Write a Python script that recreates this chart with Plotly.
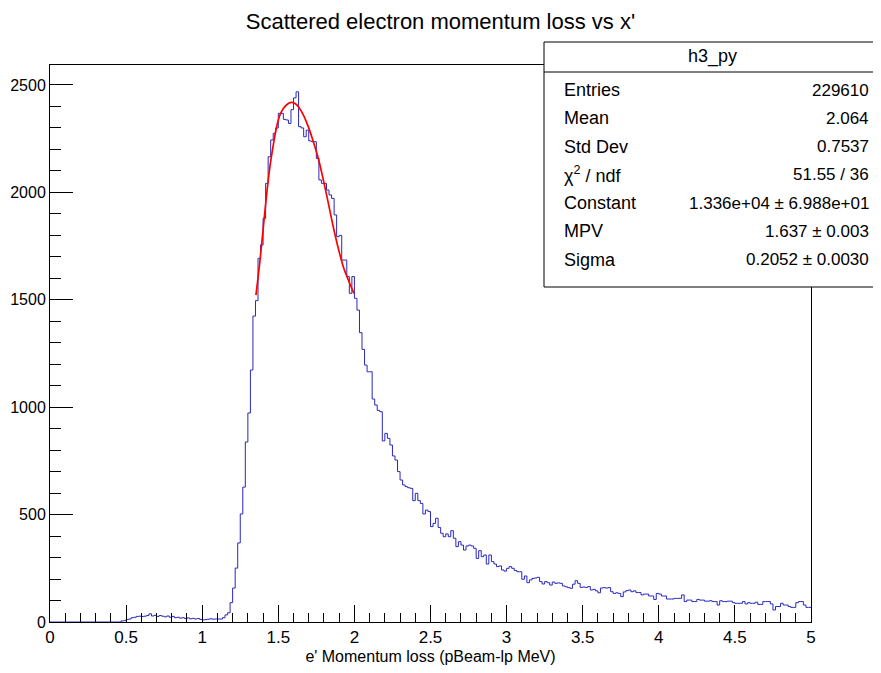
import numpy as np
import plotly.graph_objects as go

# histogram h3_py: 300 bins on [0, 5]
x_min, x_max, n_bins = 0.0, 5.0, 300
counts = (
    [0] * 28
    + [5, 6, 12, 14, 20, 22, 26, 27, 26, 27, 30, 38, 28, 31, 26, 30, 27, 24, 28, 22,
       26, 20, 22, 18, 20, 16, 19, 15, 17, 14, 16, 12, 10, 11, 13, 15, 13, 14, 14, 14,
       20, 33]
    + [43, 90, 158, 251, 368, 503, 628, 838, 973, 1173, 1424, 1496]
    + [1693, 1755, 1879, 2042, 2166, 2244, 2275, 2300, 2368, 2368, 2340, 2337, 2321,
       2385, 2440, 2468]
    + [2306, 2300, 2259, 2290, 2240, 2236, 2236, 2158, 2058, 2042, 2042, 2011, 1988,
       1972, 1895, 1794, 1800, 1685, 1685, 1608, 1530, 1608, 1507]
    + [1452, 1347, 1269, 1196, 1165, 1165, 1038, 1010, 985, 979, 843, 878, 855, 824,
       773, 754, 700, 661, 638, 630, 625, 622, 565, 599, 565, 552, 503, 521, 514, 444,
       459, 483, 440]
    + [413, 397, 410, 397, 425, 390, 351, 374, 358, 335, 354, 358, 354, 343, 296, 332,
       304, 312, 270, 312, 281, 270, 258, 261, 242, 237, 250, 258, 250, 240, 234, 234,
       199, 214, 183, 196, 203, 205, 208, 188, 177, 188, 183, 172, 186, 180, 182, 180,
       168, 164, 160, 157, 176, 192, 180, 161, 163, 161, 165, 149, 152, 145, 136, 158,
       160, 158, 160, 141, 133, 136, 133, 118, 140, 146]
    + [149, 141, 145, 137, 137, 126, 130, 130, 121, 121, 105, 133, 130, 121, 121, 107,
       107, 107, 110, 110, 110, 126, 95, 102, 102, 95, 95, 105, 102, 102, 97, 97, 99,
       95, 95, 79, 99, 95, 95, 97, 97, 90, 87, 87, 87, 95, 84, 90, 87, 87, 92, 82, 82,
       95, 95, 95, 84, 56, 72, 72, 87, 79, 79, 72, 68, 68, 90, 95, 95, 79, 68, 68]
)

# Landau fit curve
fit_x = [1.353, 1.380, 1.402, 1.424, 1.445, 1.467, 1.489, 1.511, 1.533, 1.566, 1.588,
         1.610, 1.632, 1.665, 1.697, 1.730, 1.763, 1.796, 1.829, 1.861, 1.894, 1.927,
         1.960, 1.997]
fit_y = [1522, 1685, 1840, 1995, 2120, 2220, 2306, 2360, 2391, 2414, 2419, 2414, 2399,
         2360, 2306, 2236, 2158, 2058, 1949, 1840, 1740, 1654, 1592, 1530]

stats_labels = ["Entries", "Mean", "Std Dev", "χ<sup>2</sup> / ndf", "Constant", "MPV", "Sigma"]
stats_values = ["229610", "2.064", "0.7537", "51.55 / 36", "1.336e+04 ± 6.988e+01",
                "1.637 ± 0.003", "0.2052 ± 0.0030"]

FONT = "Liberation Sans, Arial, sans-serif"

# the page body adds an 8px margin, so the figure is shifted by that amount
OFF = 8
W, H = 881, 673 - OFF
# frame in page pixels: left 50, right 811, top 65, bottom 622
L, R, T, B = 50, 811, 65, 622

edges = np.linspace(x_min, x_max, n_bins + 1)
fig = go.Figure()
fig.add_trace(go.Scatter(
    x=edges, y=list(counts) + [counts[-1]],
    mode="lines", line=dict(color="rgb(40,40,190)", width=1, shape="hv"),
    hoverinfo="skip", showlegend=False,
))
fig.add_trace(go.Scatter(
    x=fit_x, y=fit_y, mode="lines",
    line=dict(color="red", width=1.7, shape="spline"),
    showlegend=False,
))


def px(p):
    return (p - L) / (R - L)


def py(p):
    return (B - p) / (B - T)


# stats box
fig.add_shape(type="rect", xref="paper", yref="paper",
              x0=px(544), x1=px(880), y0=py(287), y1=py(42),
              fillcolor="white", line=dict(color="black", width=1), layer="above")
fig.add_shape(type="line", xref="paper", yref="paper",
              x0=px(544), x1=px(880), y0=py(72), y1=py(72),
              line=dict(color="black", width=1), layer="above")
fig.add_annotation(text="h3_py", xref="paper", yref="paper", x=px(712), y=py(57),
                   showarrow=False, xanchor="center", yanchor="middle",
                   font=dict(family=FONT, size=18, color="black"))
for i, (lab, val) in enumerate(zip(stats_labels, stats_values)):
    yy = py(90 + i * 28.3)
    fig.add_annotation(text=lab, xref="paper", yref="paper", x=px(562), y=yy,
                       showarrow=False, xanchor="left", yanchor="middle",
                       font=dict(family=FONT, size=18, color="black"))
    fig.add_annotation(text=val, xref="paper", yref="paper", x=px(871), y=yy,
                       showarrow=False, xanchor="right", yanchor="middle",
                       font=dict(family=FONT, size=17, color="black"))

fig.update_layout(
    width=W, height=H,
    margin=dict(l=L - OFF, r=W - (R - OFF), t=T - OFF, b=H - (B - OFF), autoexpand=False),
    paper_bgcolor="white", plot_bgcolor="white",
    title=dict(text="Scattered electron momentum loss vs x'", x=(440.5 - OFF) / W,
               xref="container", y=1 - (21 - OFF) / H, yref="container",
               xanchor="center", yanchor="middle",
               font=dict(family=FONT, size=22, color="black")),
    font=dict(family=FONT, size=16, color="black"),
)
fig.update_xaxes(
    range=[x_min, x_max], dtick=0.5, tick0=0, showgrid=False, zeroline=False,
    showline=True, mirror=True, linecolor="black", linewidth=1, automargin=False,
    ticks="inside", ticklen=17, tickcolor="black", tickwidth=1,
    minor=dict(dtick=0.1, ticks="inside", ticklen=9, tickcolor="black", showgrid=False),
    title=dict(text="e' Momentum loss (pBeam-lp MeV)", standoff=4,
               font=dict(family=FONT, size=16)),
    tickfont=dict(family=FONT, size=17),
)
fig.update_yaxes(
    range=[0, 2593], dtick=500, tick0=0, showgrid=False, zeroline=False,
    showline=True, mirror=True, linecolor="black", linewidth=1, automargin=False,
    ticks="inside", ticklen=23, tickcolor="black", tickwidth=1,
    minor=dict(dtick=100, ticks="inside", ticklen=11, tickcolor="black", showgrid=False),
    tickfont=dict(family=FONT, size=16),
)

fig.write_html("out.html")
